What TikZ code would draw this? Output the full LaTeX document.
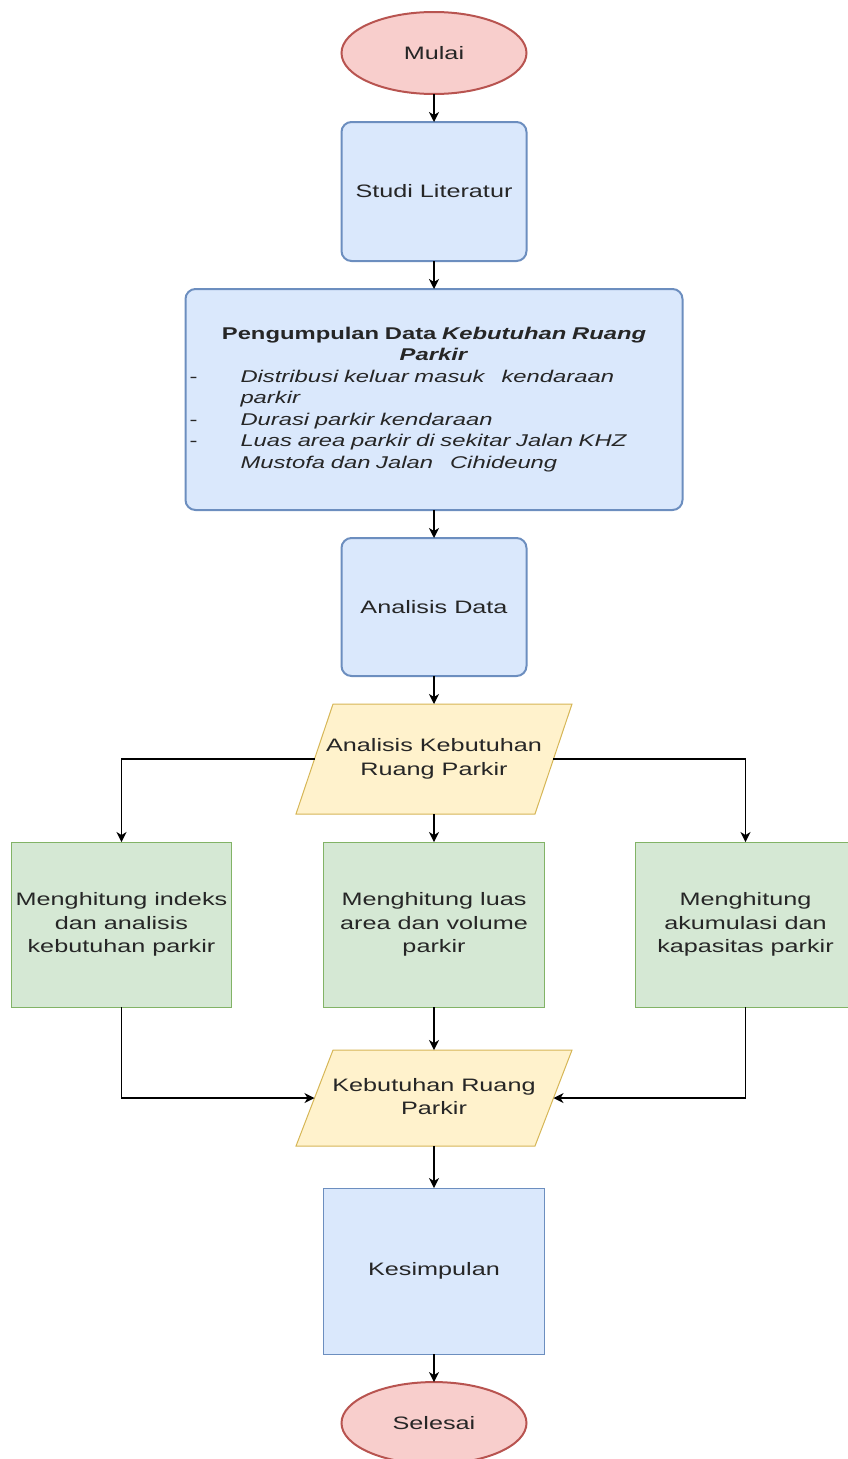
\documentclass[tikz,border=0pt]{standalone}
\usepackage{fontspec}
\setmainfont{Liberation Sans}[FakeStretch=1.4]
\usepackage{xcolor}
\definecolor{cText}{HTML}{262626}
\definecolor{cRedFill}{HTML}{F8CECC}
\definecolor{cRedLine}{HTML}{B85450}
\definecolor{cBlueFill}{HTML}{DAE8FC}
\definecolor{cBlueLine}{HTML}{6C8EBF}
\definecolor{cYellowFill}{HTML}{FFF2CC}
\definecolor{cYellowLine}{HTML}{D6B656}
\definecolor{cGreenFill}{HTML}{D5E8D4}
\definecolor{cGreenLine}{HTML}{82B366}
\usetikzlibrary{positioning,arrows.meta,shapes.geometric}
% teks jajar genjang tanpa lebar, supaya bentuknya diatur oleh minimum width
\newcommand{\iotext}[1]{\makebox[0pt]{\begin{tabular}{@{}c@{}}#1\end{tabular}}}
\tikzset{
  node-text/.style={text=cText,font=\fontsize{18}{23.5}\selectfont,align=center,outer sep=0pt},
  node-term/.style={node-text,ellipse,draw=cRedLine,line width=2pt,fill=cRedFill,
    minimum width=185pt,minimum height=82pt},
  node-proc/.style={node-text,draw=cBlueLine,line width=2pt,fill=cBlueFill,
    rounded corners=10pt,minimum width=185pt,minimum height=139pt},
  node-io/.style={node-text,trapezium,trapezium left angle=55.4,trapezium right angle=124.6,
    trapezium stretches body,draw=cYellowLine,line width=1pt,fill=cYellowFill,
    minimum width=276pt},
  node-task/.style={node-text,draw=cGreenLine,line width=1pt,fill=cGreenFill,
    minimum width=220pt,minimum height=165pt},
  node-plain/.style={node-text,draw=cBlueLine,line width=1pt,fill=cBlueFill,
    minimum width=221pt,minimum height=166pt},
  arrow/.style={-{Stealth[length=10pt,width=10pt,inset=3pt]},line width=1.5pt,draw=black},
}
\begin{document}
\begin{tikzpicture}[node distance=28pt and 92pt]
  \useasboundingbox (0,0) rectangle (848pt,-1459pt);
  \clip (0,0) rectangle (848pt,-1459pt);
  \node[node-term] (start) at (434pt,-53pt) {Mulai};
  \node[node-proc,below=of start] (lit) {Studi Literatur};
  \node[node-proc,below=of lit,minimum width=497pt,minimum height=221pt,
    text width=489pt,align=left,font=\fontsize{17}{21.5}\selectfont] (collect) {%
    {\centering\bfseries Pengumpulan Data \textit{Kebutuhan Ruang}\\ \textit{Parkir}\par}
    \raggedright\itshape
    \makebox[51pt][l]{\upshape -}Distribusi keluar masuk\ \ \ kendaraan\\
    \hspace*{51pt}parkir\\
    \makebox[51pt][l]{\upshape -}Durasi parkir kendaraan\\
    \makebox[51pt][l]{\upshape -}Luas area parkir di sekitar Jalan KHZ\\
    \hspace*{51pt}Mustofa dan Jalan\ \ \ Cihideung};
  \node[node-proc,below=of collect,minimum height=138pt] (analysis) {Analisis Data};
  \node[node-io,below=of analysis,minimum height=110pt] (need) {\iotext{Analisis Kebutuhan\\Ruang Parkir}};
  \node[node-task,below=of need,minimum width=221pt] (area) {Menghitung luas\\area dan volume\\parkir};
  \node[node-task,left=of area] (idx) {Menghitung indeks\\dan analisis\\kebutuhan parkir};
  \node[node-task,right=91pt of area] (accum) {Menghitung\\akumulasi dan\\kapasitas parkir};
  \node[node-io,below=43pt of area,minimum height=96pt] (result) {\iotext{Kebutuhan Ruang\\Parkir}};
  \node[node-plain,below=42pt of result] (concl) {Kesimpulan};
  \node[node-term,below=of concl] (finish) {Selesai};
  % alur utama
  \draw[arrow] (start) -- (lit);
  \draw[arrow] (lit) -- (collect);
  \draw[arrow] (collect) -- (analysis);
  \draw[arrow] (analysis) -- (need);
  % cabang perhitungan
  \draw[arrow] (need.left side) -| (idx);
  \draw[arrow] (need) -- (area);
  \draw[arrow] (need.right side) -| (accum);
  \draw[arrow] (idx) |- (result.left side);
  \draw[arrow] (area) -- (result);
  \draw[arrow] (accum) |- (result.right side);
  \draw[arrow] (result) -- (concl);
  \draw[arrow] (concl) -- (finish);
\end{tikzpicture}
\end{document}
